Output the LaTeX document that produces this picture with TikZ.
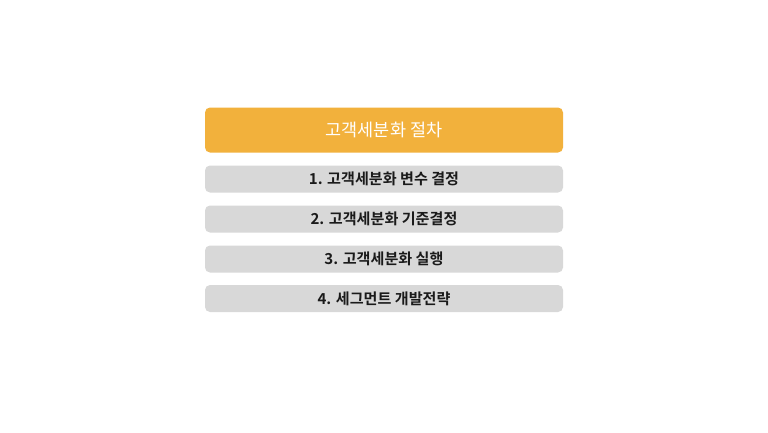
\documentclass[tikz,border=0pt]{standalone}
\usepackage{fontspec}
\newfontfamily\kr{Noto Sans CJK KR}
\newfontfamily\krb{Noto Sans CJK KR Bold}
\definecolor{orng}{HTML}{F2B13C}
\definecolor{gry}{HTML}{D8D8D8}
\definecolor{txt}{HTML}{1A1A1A}
\begin{document}
\begin{tikzpicture}[x=1pt,y=-1pt,
  titlebox/.style={fill=orng,draw=none,rounded corners=5pt},
  itembox/.style={fill=gry,draw=none,rounded corners=5pt},
  titletext/.style={text=white,font=\kr\fontsize{17.5}{20}\selectfont},
  itemtext/.style={text=txt,font=\krb\fontsize{15.1}{17}\selectfont}]
\useasboundingbox (0,0) rectangle (768,432);
\fill[white] (0,0) rectangle (768,432);
\fill[titlebox] (205,107.5) rectangle (563,152.5);
\node[titletext] (t) at (384,130) {고객세분화 절차};
\fill[itembox] (205,165.5) rectangle (563,192.5);
\node[itemtext] (a) at (384,179) {1. 고객세분화 변수 결정};
\fill[itembox] (205,205.5) rectangle (563,232.5);
\node[itemtext] (b) at (384,219) {2. 고객세분화 기준결정};
\fill[itembox] (205,245.5) rectangle (563,272.5);
\node[itemtext] (c) at (384,259) {3. 고객세분화 실행};
\fill[itembox] (205,285) rectangle (563,312);
\node[itemtext] (d) at (384,298.5) {4. 세그먼트 개발전략};
\end{tikzpicture}
\end{document}
